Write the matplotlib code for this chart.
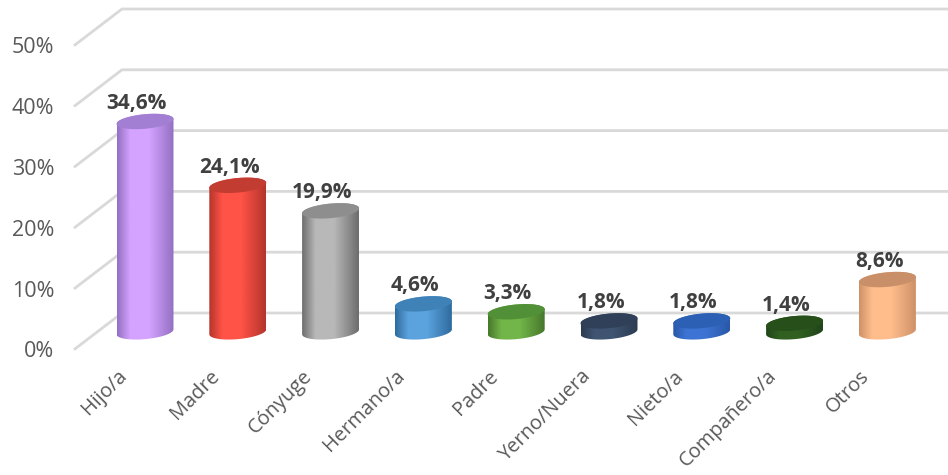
import numpy as np
import matplotlib
matplotlib.use('Agg')
import matplotlib.pyplot as plt
from matplotlib.colors import LinearSegmentedColormap
from matplotlib.patches import Polygon

categories = ['Hijo/a', 'Madre', 'Cónyuge', 'Hermano/a', 'Padre',
              'Yerno/Nuera', 'Nieto/a', 'Compañero/a', 'Otros']
values = [34.6, 24.1, 19.9, 4.6, 3.3, 1.8, 1.8, 1.4, 8.6]
value_labels = ['34,6%', '24,1%', '19,9%', '4,6%', '3,3%', '1,8%', '1,8%', '1,4%', '8,6%']
y_ticks = [0, 10, 20, 30, 40, 50]

# colores del cilindro: borde, centro, tapa
edge_colors = ['#9470c4', '#b5352c', '#6e6e6e', '#2f6c9f', '#47782c',
               '#2b3b52', '#2a58a8', '#21451a', '#cf9268']
mid_colors = ['#d4a3ff', '#ff5347', '#b8b8b8', '#5ba3de', '#72b548',
              '#3f5470', '#3d74d4', '#316020', '#ffbd8c']
top_colors = ['#a27fd2', '#c23c32', '#8e8e8e', '#3f82b8', '#529038',
              '#2f4058', '#2c60b4', '#274f1a', '#c98f68']

plt.rcParams['font.family'] = ['Open Sans', 'DejaVu Sans']

fig = plt.figure(figsize=(9.48, 4.75), dpi=100)
ax = fig.add_axes([0, 0, 1, 1])
ax.axis('off')

# la escala: cada categoría 92.8 px, cada punto porcentual 6.08 px
x_lim = (-145 / 92.8, (948 - 145) / 92.8)
y_lim = ((313 - 475) / 6.08, 313 / 6.08)

# profundidad de la vista 3D
back_x = -0.248
depth_x = -0.506
depth_y = -5.9
base_y = -3.1
half_w = 0.307
ell_b = 1.2
ell_k = 0.41

for tick in y_ticks:
    ax.plot([back_x + depth_x, back_x, x_lim[1]], [tick + depth_y, tick, tick],
            color='#d9d9d9', lw=2, solid_joinstyle='miter', zorder=1)
    ax.text(back_x + depth_x - 0.225, tick + depth_y - 0.5, f'{tick}%', ha='right', va='center',
            fontsize=15.5, color='#595959')


def ellipse(cx, cy, t):
    return cx + half_w * np.cos(t), cy + ell_b * np.sin(t) + ell_k * np.cos(t)


for i, val in enumerate(values):
    top_y = base_y + val
    low = np.linspace(np.pi, 2 * np.pi, 50)
    up = np.linspace(0, np.pi, 50)
    bx, by = ellipse(i, base_y, low)
    ux, uy = ellipse(i, top_y, up)
    body = Polygon(np.column_stack([np.r_[bx, ux], np.r_[by, uy]]), closed=True,
                   facecolor='none', edgecolor='none', zorder=2)
    ax.add_patch(body)

    cmap = LinearSegmentedColormap.from_list(
        f'cyl{i}', [edge_colors[i], mid_colors[i], mid_colors[i], edge_colors[i]])
    grad = np.interp(np.linspace(0, 1, 100), [0, 0.35, 1], [0.0, 0.5, 1.0])[None, :]
    img = ax.imshow(grad, cmap=cmap, aspect='auto', interpolation='bilinear',
                    extent=(i - half_w, i + half_w, base_y - 2, top_y + 2), zorder=2)
    img.set_clip_path(body)

    tx, ty = ellipse(i, top_y, np.linspace(0, 2 * np.pi, 100))
    ax.fill(tx, ty, color=top_colors[i], lw=0, zorder=3)

    ax.text(i - 0.09, top_y + 3.0, value_labels[i], ha='center', va='center',
            fontsize=15, fontweight='bold', color='#404040', zorder=4)
    ax.text(i - 0.23, -9.9, categories[i], ha='right', va='center', rotation=45,
            rotation_mode='anchor', fontsize=14.4, color='#595959', zorder=4)

ax.set_xlim(x_lim)
ax.set_ylim(y_lim)

fig.savefig('out.png', dpi=100, facecolor='white')
plt.close(fig)
